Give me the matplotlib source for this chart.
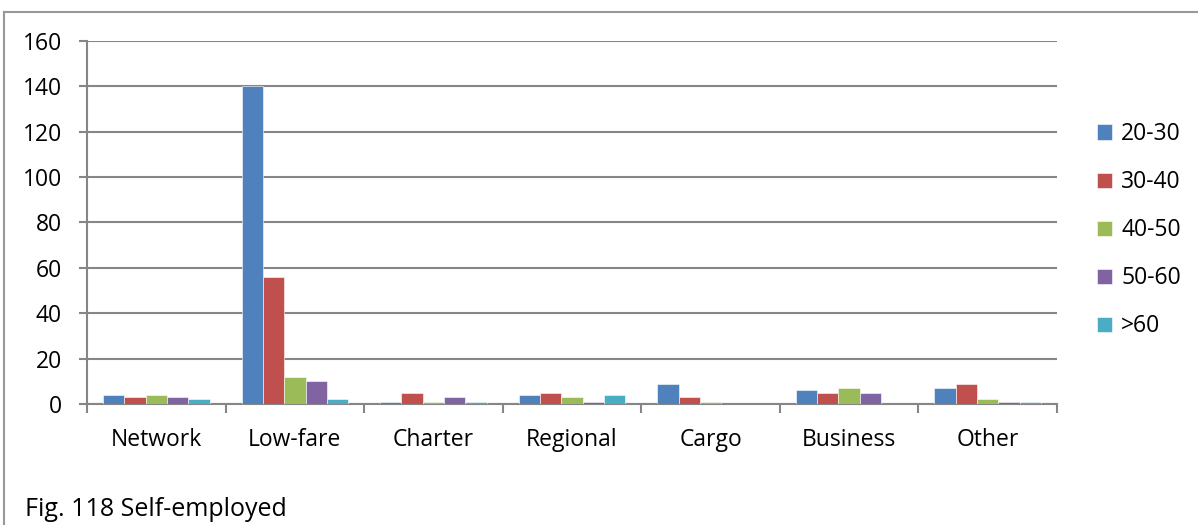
import numpy as np
import matplotlib.pyplot as plt
from matplotlib.lines import Line2D

# Data
categories = ['Network', 'Low-fare', 'Charter', 'Regional', 'Cargo', 'Business', 'Other']
age_groups = ['20-30', '30-40', '40-50', '50-60', '>60']
v_20_30 = [4, 140, 1, 4, 9, 6, 7]
v_30_40 = [3, 56, 5, 5, 3, 5, 9]
v_40_50 = [4, 12, 1, 3, 1, 7, 2]
v_50_60 = [3, 10, 3, 1, 0, 5, 1]
v_60_up = [2, 2, 1, 4, 0, 0, 1]
series = [v_20_30, v_30_40, v_40_50, v_50_60, v_60_up]
colors = ['#4F81BD', '#C0504D', '#9BBB59', '#8064A2', '#4BACC6']

plt.rcParams['font.family'] = ['Open Sans', 'DejaVu Sans']
grid_col = '#868686'

fig = plt.figure(figsize=(11.98, 5.25), dpi=100)
ax = fig.add_axes([87 / 1198, 1 - 404 / 525, 970 / 1198, 363 / 525])

x = np.arange(len(categories))
bw = 0.154
for i, (vals, c) in enumerate(zip(series, colors)):
    ax.bar(x + (i - 2) * bw, vals, width=bw, color=c, label=age_groups[i],
           edgecolor='white', linewidth=0.4, zorder=3)

ax.set_xlim(-0.5, len(categories) - 0.5)
ax.set_ylim(0, 160)
ax.set_yticks(range(0, 161, 20))
ax.yaxis.grid(True, color=grid_col, linewidth=1.5, zorder=0)
ax.set_xticks(x)
ax.set_xticklabels(categories)
ax.set_xticks(np.arange(-0.5, len(categories)), minor=True)
ax.tick_params(axis='x', which='major', length=0, pad=17, labelsize=16.5)
ax.tick_params(axis='x', which='minor', length=6.5, width=1.5, color=grid_col)
ax.tick_params(axis='y', length=6, width=1.5, color=grid_col, labelsize=16.5, pad=12)
for s in ['top', 'right']:
    ax.spines[s].set_visible(False)
for s in ['left', 'bottom']:
    ax.spines[s].set_color(grid_col)
    ax.spines[s].set_linewidth(1.5)

ax.legend(loc='upper left', bbox_to_anchor=(1088 / 1198, 1 - 113 / 525),
          bbox_transform=fig.transFigure, frameon=False, fontsize=16.5,
          handlelength=0.65, handleheight=0.65, handletextpad=0.4,
          labelspacing=1.05, borderaxespad=0)

# outer frame (top and left edges) and caption
fig.add_artist(Line2D([4 / 1198, 1], [1 - 12 / 525, 1 - 12 / 525],
                      transform=fig.transFigure, color='#999999', linewidth=1.5))
fig.add_artist(Line2D([4 / 1198, 4 / 1198], [0, 1 - 12 / 525],
                      transform=fig.transFigure, color='#999999', linewidth=1.5))
fig.text(25 / 1198, 1 - 510 / 525, 'Fig. 118 Self-employed', fontsize=18, va='center')

plt.savefig('out.png', dpi=100)
